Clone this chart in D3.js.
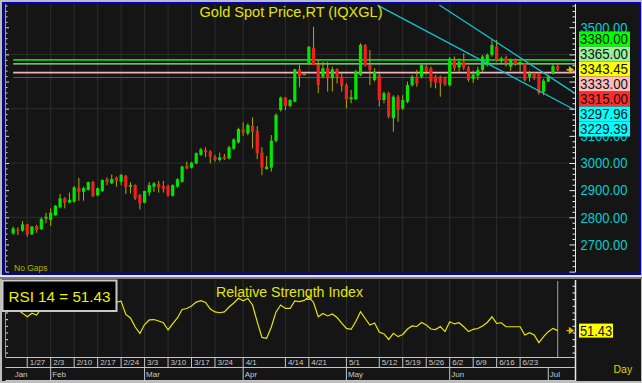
<!DOCTYPE html>
<html>
<head>
<meta charset="utf-8">
<script src="https://cdn.jsdelivr.net/npm/d3@7"></script>
<style>
  body { margin: 0; background: #bdbdbd; }
  svg { display: block; font-family: "Liberation Sans", Arial, sans-serif; }
</style>
</head>
<body>
<svg id="chart" width="642" height="383"></svg>
<script>
// daily candles, 1/22 .. 7/3 (weekdays, no gaps)
var openP = [2741,2754,2751,2774,2737,2768,2757,2795,2790,2808, 2837,2870,2854,2858,2909,2894,2901,2930,2881,2897,
  2940,2925,2947,2931,2953,2913,2918,2882,2854,2891, 2913,2923,2915,2915,2879,2913,2931,2990,2983,2999,
  3030,3048,3043,3023,3011,3023,3017,3053,3076,3124, 3109,3136,3118,3038,2977,2983,3082,3195,3242,3210,
  3226,3345,3327,3365,3425,3361,3318,3349,3312,3345, 3318,3287,3235,3235,3324,3435,3361,3306,3324,3232,
  3257,3165,3244,3201,3226,3287,3318,3318,3355,3349, 3318,3318,3312,3287,3379,3352,3373,3352,3310,3322,
  3343,3361,3398,3429,3376,3388,3355,3380,3370,3367, 3318,3330,3330,3262,3300,3330,3357];
var highP = [2766,2763,2786,2776,2768,2772,2800,2817,2833,2845, 2886,2874,2891,2915,2945,2913,2931,2934,2910,2940,
  2947,2958,2950,2960,2956,2929,2921,2886,2898,2930, 2930,2934,2934,2920,2921,2944,2990,3005,3004,3039,
  3056,3058,3047,3030,3038,3033,3063,3091,3130,3149, 3146,3168,3136,3058,3026,3103,3183,3245,3242,3235,
  3347,3361,3327,3431,3502,3379,3373,3373,3355,3349, 3330,3293,3269,3343,3441,3438,3416,3349,3330,3263,
  3263,3250,3250,3250,3300,3324,3343,3367,3361,3355, 3324,3322,3318,3390,3392,3385,3404,3358,3340,3355,
  3398,3404,3453,3453,3392,3395,3385,3385,3380,3370, 3340,3336,3333,3310,3325,3364,3362];
var lowP = [2735,2735,2747,2729,2735,2743,2753,2778,2768,2806, 2833,2833,2852,2854,2861,2861,2898,2874,2877,2893,
  2918,2923,2913,2918,2886,2888,2864,2829,2851,2879, 2894,2891,2891,2876,2876,2909,2928,2977,2980,2995,
  3026,3021,2999,3005,3006,3011,3013,3048,3072,3100, 3102,3054,3014,2955,2977,2968,3076,3190,3195,3205,
  3223,3279,3327,3361,3361,3257,3312,3263,3263,3293, 3263,3201,3220,3232,3320,3355,3287,3300,3208,3220,
  3165,3115,3152,3195,3220,3281,3281,3312,3325,3278, 3275,3244,3284,3282,3340,3336,3343,3300,3295,3306,
  3336,3355,3392,3373,3367,3355,3340,3358,3336,3300, 3300,3306,3252,3250,3298,3326,3338];
var closeP = [2759,2750,2774,2737,2766,2753,2794,2802,2817,2842, 2870,2854,2864,2910,2893,2907,2930,2879,2907,2937,
  2930,2941,2934,2956,2913,2919,2870,2851,2897,2919, 2925,2910,2905,2881,2919,2940,2987,2980,3001,3036,
  3050,3040,3023,3011,3021,3015,3058,3087,3125,3112, 3140,3115,3036,2983,2987,3082,3177,3241,3210,3232,
  3345,3320,3327,3428,3361,3287,3349,3312,3345,3318, 3284,3234,3242,3336,3435,3361,3343,3336,3232,3257,
  3171,3244,3195,3232,3287,3318,3293,3361,3339,3300, 3296,3294,3290,3385,3349,3373,3352,3306,3326,3343,
  3392,3398,3435,3379,3386,3367,3379,3364,3372,3306, 3330,3312,3258,3303,3318,3357,3343.45];

var rsiValues = [68,67,64.5,61.8,64.4,63.1,68,70,72,74, 77,74,75,78,75,76,78,70,73,76,
  74,75,72.8,73.5,63.5,60.9,54.1,49.3,56,59.4, 59.7,58.6,57.3,51.9,56.7,60.9,67.2,68,69.9,72.8,
  73.8,72.5,67.6,65.4,64.8,65.4,69.1,72.1,75.6,73.8, 75.5,70.6,57.9,46.3,45.7,54.1,65.4,70.6,68,68,
  73.6,73.2,74,76.6,72.5,61.8,64.2,62.4,63.9,61.2, 57.1,53.1,52.4,58.2,65.6,60.5,55.6,57.1,50.4,48.9,
  44.8,49.4,46.9,48.5,52.6,54.9,54.5,57.5,55.6,52.6, 52.2,54.5,50.7,58.1,56.4,57.3,54.3,50.7,52.4,53,
  54.9,57.5,61.8,56.9,57.3,54.3,54.3,54.3,54.3,48.1, 49.9,48.1,42.4,46.9,50.6,53.1,51.43];

var weekTicks = ['1/27','2/3','2/10','2/17','2/24','3/3','3/10','3/17','3/24','4/1','4/14','4/21',
  '5/1','5/12','5/19','5/26','6/2','6/9','6/16','6/23'];
var monthTicks = ['Jan','Feb','Mar','Apr','May','Jun','Jul'];
// labels under the tag stack (3200-3400) are hidden in the original, so not printed
var priceTicks = [2700, 2800, 2900, 3000, 3100, 3500];
var priceGrid = [2800, 3000, 3200, 3400];
var rsiTicks = [35, 40, 45, 50, 55, 60, 65, 70, 75, 80, 85];

// horizontal levels and drawn trend lines ([bar index, price])
var levels = [3380, 3365, 3333, 3315];
var levelColors = ['#00dd00', '#a0e8a0', '#f0b4b4', '#d82020'];
var trendUpper = [[90.8, 3582], [119.3, 3261]];
var trendLower = [[77.6, 3581.5], [119.3, 3199]];

// right-hand value tags
var tagValues = [3380, 3365, 3343.45, 3333, 3315, 3297.96, 3229.39];
var tagColors = ['#00ff00', '#98f098', '#ffff00', '#ffbcbc', '#ff2c2c', '#00ffff', '#00ffff'];

function buildChart() {
  var svg = d3.select('#chart');
  var plot = {l: 5.5, r: 575.5, t: 4, b: 272};
  var rsiP = {t: 280, b: 357};
  var n = closeP.length;

  var dates = d3.timeDays(new Date(2025, 0, 22), new Date(2025, 6, 4))
    .filter(d => d.getDay() > 0 && d.getDay() < 6);
  var fmtDay = d3.timeFormat('%-m/%-d');
  var fmtMonth = d3.timeFormat('%b');
  var weekIdx = weekTicks.map(t => dates.findIndex(d => fmtDay(d) === t));
  var monthIdx = monthTicks.map(m => dates.findIndex(d => fmtMonth(d) === m));

  var x = d3.scaleLinear().domain([0, n - 1]).range([13.15, 557.65]);
  var y = d3.scaleLinear().domain([2600, 3600]).range([271.6, 0.1]);
  var yr = d3.scaleLinear().domain([30, 90]).range([359.2, 279.1]);

  // frames
  svg.append('rect').attr('width', 642).attr('height', 383).attr('fill', '#bdbdbd');
  svg.append('rect').attr('x', 2).attr('y', 2).attr('width', 639).attr('height', 273).attr('fill', '#151515');
  svg.append('rect').attr('x', 3.5).attr('y', 3).attr('width', 636.5).attr('height', 270.8)
    .attr('fill', 'none').attr('stroke', '#0000c8').attr('stroke-width', 2);
  svg.append('rect').attr('x', 0).attr('y', 275).attr('width', 642).attr('height', 2).attr('fill', '#e6e6e6');
  svg.append('rect').attr('x', 0).attr('y', 277).attr('width', 642).attr('height', 2).attr('fill', '#7a7a7a');
  svg.append('rect').attr('x', 2).attr('y', 279).attr('width', 639).attr('height', 102).attr('fill', '#151515');

  var defs = svg.append('defs');
  defs.append('clipPath').attr('id', 'mainClip').append('rect')
    .attr('x', plot.l).attr('y', plot.t).attr('width', plot.r - plot.l).attr('height', plot.b - plot.t);
  defs.append('clipPath').attr('id', 'rsiClip').append('rect')
    .attr('x', plot.l).attr('y', rsiP.t).attr('width', plot.r - plot.l).attr('height', rsiP.b - rsiP.t);

  // ---- price panel ----
  var mainG = svg.append('g').attr('clip-path', 'url(#mainClip)');
  mainG.selectAll('.vgrid').data(weekIdx).enter().append('line')
    .attr('x1', d => x(d)).attr('x2', d => x(d)).attr('y1', plot.t).attr('y2', plot.b)
    .attr('stroke', '#2d2d2d');
  mainG.selectAll('.hgrid').data(priceGrid).enter().append('line')
    .attr('x1', plot.l).attr('x2', plot.r).attr('y1', d => y(d)).attr('y2', d => y(d))
    .attr('stroke', '#2d2d2d');

  mainG.selectAll('.level').data(levels).enter().append('line')
    .attr('x1', x(0)).attr('x2', plot.r).attr('y1', d => y(d)).attr('y2', d => y(d))
    .attr('stroke', (d, i) => levelColors[i]).attr('stroke-width', (d, i) => i % 2 ? 1.2 : 1.6);

  var candles = mainG.selectAll('.candle').data(closeP).enter().append('g');
  candles.append('line')
    .attr('x1', (d, i) => x(i)).attr('x2', (d, i) => x(i))
    .attr('y1', (d, i) => y(highP[i])).attr('y2', (d, i) => y(lowP[i]))
    .attr('stroke', '#b4a800').attr('stroke-width', 1);
  candles.append('rect')
    .attr('x', (d, i) => x(i) - 1.6).attr('width', 3.2)
    .attr('y', (d, i) => y(Math.max(openP[i], d)))
    .attr('height', (d, i) => Math.max(1, Math.abs(y(openP[i]) - y(d))))
    .attr('fill', (d, i) => d > openP[i] ? '#00e800' : (d < openP[i] ? '#f02020' : '#e8b800'));

  var tline = d3.line().x(d => x(d[0])).y(d => y(d[1]));
  mainG.selectAll('.trend').data([trendUpper, trendLower]).enter().append('path')
    .attr('d', tline).attr('fill', 'none').attr('stroke', '#10c4d4').attr('stroke-width', 1.3);

  svg.append('text').attr('x', 199.5).attr('y', 17.3).text('Gold Spot Price,RT (IQXGL)')
    .attr('font-size', 15).attr('fill', '#e4e400')
    .attr('textLength', 183).attr('lengthAdjust', 'spacingAndGlyphs');
  svg.append('text').attr('x', 14).attr('y', 271).text('No Gaps')
    .attr('font-size', 8.5).attr('fill', '#b4b400');

  // left tick column
  var inPlot = v => y(v) >= plot.t && y(v) <= plot.b;
  var minorVals = d3.range(2600, 3601, 20).filter(v => v % 100 !== 0 && inPlot(v));
  var majorVals = d3.range(2600, 3601, 100).filter(inPlot);
  var leftG = svg.append('g').attr('transform', 'translate(' + plot.l + ',0)').attr('color', '#e0e0e0');
  leftG.append('g').call(d3.axisRight(y).tickValues(minorVals).tickSize(2).tickFormat(''));
  leftG.append('g').call(d3.axisRight(y).tickValues(majorVals).tickSize(3.5).tickFormat(''));
  leftG.selectAll('.domain').remove();
  leftG.append('line').attr('y1', plot.t).attr('y2', plot.b).attr('stroke', '#9a9a9a');

  // right price axis
  var rightG = svg.append('g').attr('transform', 'translate(' + plot.r + ',0)').attr('color', '#e8e8e8');
  rightG.append('g').call(d3.axisRight(y).tickValues(minorVals).tickSize(-3).tickFormat(''));
  rightG.append('g').call(d3.axisRight(y).tickValues(majorVals).tickSize(-6).tickFormat(''));
  var labG = rightG.append('g').call(d3.axisRight(y).tickValues(priceTicks).tickSize(0).tickPadding(5)
    .tickFormat(d3.format('.2f')));
  labG.selectAll('text').attr('fill', '#00d0d0').attr('font-size', 15)
    .attr('font-family', '"Liberation Sans", Arial, sans-serif')
    .attr('textLength', 47).attr('lengthAdjust', 'spacingAndGlyphs');
  rightG.selectAll('.domain').remove();
  rightG.append('line').attr('y1', plot.t).attr('y2', plot.b).attr('stroke', '#e8e8e8');

  // stacked value tags
  var tagTop = 31.5, tagH = 15;
  var tags = svg.selectAll('.tag').data(tagValues).enter().append('g')
    .attr('transform', (d, i) => 'translate(579,' + (tagTop + i * tagH) + ')');
  tags.append('rect').attr('width', 51).attr('height', tagH).attr('fill', (d, i) => tagColors[i]);
  tags.append('text').attr('x', 1).attr('y', 12.6).text(d => d3.format('.2f')(d))
    .attr('font-size', 15).attr('fill', '#111')
    .attr('textLength', 48).attr('lengthAdjust', 'spacingAndGlyphs');

  function arrow(yy) {
    svg.append('path')
      .attr('d', 'M566.5,' + yy + 'H570.5M569.5,' + (yy - 2.5) + 'L573,' + yy + 'L569.5,' + (yy + 2.5) + 'Z')
      .attr('stroke', '#e0c000').attr('stroke-width', 1.3).attr('fill', '#e0c000');
  }
  arrow(y(closeP[n - 1]));

  // ---- RSI panel ----
  var rsiG = svg.append('g').attr('clip-path', 'url(#rsiClip)');
  rsiG.selectAll('.vgrid').data(weekIdx).enter().append('line')
    .attr('x1', d => x(d)).attr('x2', d => x(d)).attr('y1', rsiP.t).attr('y2', rsiP.b)
    .attr('stroke', '#2d2d2d');
  rsiG.append('line').attr('x1', x(n - 1)).attr('x2', x(n - 1)).attr('y1', 281).attr('y2', rsiP.b)
    .attr('stroke', '#8c8c8c').attr('stroke-width', 1.2);
  rsiG.append('path').datum(rsiValues)
    .attr('d', d3.line().x((d, i) => x(i)).y(d => yr(d)))
    .attr('fill', 'none').attr('stroke', '#e6e600').attr('stroke-width', 1.2);

  var rl = svg.append('g').attr('transform', 'translate(' + plot.l + ',0)').attr('color', '#e0e0e0');
  rl.call(d3.axisRight(yr).tickValues(rsiTicks).tickSize(2.5).tickFormat(''));
  rl.select('.domain').remove();
  rl.append('line').attr('y1', rsiP.t).attr('y2', rsiP.b).attr('stroke', '#9a9a9a');

  var rr = svg.append('g').attr('transform', 'translate(' + plot.r + ',0)').attr('color', '#e8e8e8');
  rr.call(d3.axisRight(yr).tickValues(rsiTicks).tickSize(-3).tickFormat(''));
  rr.select('.domain').remove();
  rr.append('line').attr('y1', rsiP.t).attr('y2', 381).attr('stroke', '#e8e8e8').attr('stroke-width', 1.5);

  var last = rsiValues[n - 1];
  svg.append('rect').attr('x', 2.5).attr('y', 280.5).attr('width', 114).attr('height', 30.5)
    .attr('fill', '#000').attr('stroke', '#c8c8c8').attr('stroke-width', 2);
  svg.append('text').attr('x', 8.5).attr('y', 301.7).text('RSI 14 = ' + last)
    .attr('font-size', 15.5).attr('fill', '#f0f000')
    .attr('textLength', 102).attr('lengthAdjust', 'spacingAndGlyphs');
  svg.append('text').attr('x', 216).attr('y', 296.5).text('Relative Strength Index')
    .attr('font-size', 15.5).attr('fill', '#e4e400')
    .attr('textLength', 147).attr('lengthAdjust', 'spacingAndGlyphs');

  svg.append('rect').attr('x', 579).attr('y', yr(last) - 7).attr('width', 34).attr('height', 14)
    .attr('fill', '#ffff00');
  svg.append('text').attr('x', 580).attr('y', yr(last) + 5.3).text(last)
    .attr('font-size', 15).attr('fill', '#111')
    .attr('textLength', 32).attr('lengthAdjust', 'spacingAndGlyphs');
  arrow(yr(last));

  // ---- date rows ----
  var axG = svg.append('g').attr('stroke', '#c4c4c4');
  [357.5, 367.5, 380.5].forEach(function(yy) {
    axG.append('line').attr('x1', plot.l).attr('x2', plot.r).attr('y1', yy).attr('y2', yy);
  });
  axG.selectAll('.wsep').data(weekIdx).enter().append('line')
    .attr('x1', d => x(d)).attr('x2', d => x(d)).attr('y1', 357.5).attr('y2', 367.5);
  axG.selectAll('.msep').data(monthIdx.slice(1)).enter().append('line')
    .attr('x1', d => x(d)).attr('x2', d => x(d)).attr('y1', 367.5).attr('y2', 380.5);

  svg.selectAll('.wlab').data(weekIdx).enter().append('text')
    .attr('x', d => x(d) + 2.5).attr('y', 365.3).text((d, i) => weekTicks[i])
    .attr('font-size', 8).attr('fill', '#c8c8c8');
  svg.selectAll('.mlab').data(monthIdx).enter().append('text')
    .attr('x', d => x(d) + 1.5).attr('y', 377.2).text((d, i) => monthTicks[i])
    .attr('font-size', 8).attr('fill', '#c8c8c8');

  svg.append('text').attr('x', 613.5).attr('y', 373).text('Day')
    .attr('font-size', 10.5).attr('fill', '#d8d800');
}

buildChart();
</script>
</body>
</html>
